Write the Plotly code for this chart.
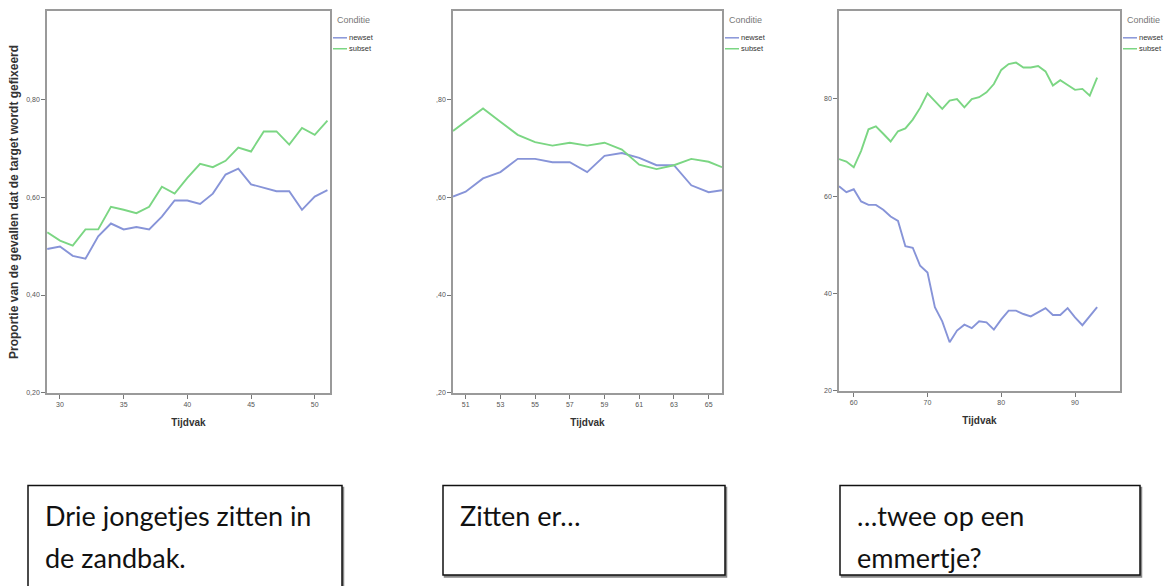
import plotly.graph_objects as go

W, H = 1165, 586

# ---- data: proportion of fixations on the target per time bin ----
tijd_1 = list(range(29, 52))
newset_1 = [0.494, 0.499, 0.480, 0.474, 0.520, 0.546, 0.534, 0.539, 0.534, 0.560,
            0.593, 0.593, 0.586, 0.607, 0.646, 0.658, 0.626, 0.619, 0.612, 0.612,
            0.574, 0.601, 0.614]
subset_1 = [0.528, 0.511, 0.501, 0.534, 0.534, 0.580, 0.574, 0.567, 0.580, 0.621,
            0.607, 0.639, 0.668, 0.661, 0.674, 0.701, 0.693, 0.734, 0.734, 0.707,
            0.741, 0.727, 0.756]

tijd_2 = [50.27] + list(range(51, 66)) + [65.77]
newset_2 = [0.601, 0.611, 0.638, 0.651, 0.678, 0.678, 0.671, 0.671, 0.651, 0.684,
            0.690, 0.680, 0.665, 0.665, 0.624, 0.610, 0.614]
subset_2 = [0.735, 0.755, 0.781, 0.754, 0.727, 0.712, 0.705, 0.711, 0.705, 0.711,
            0.697, 0.666, 0.657, 0.665, 0.678, 0.672, 0.661]

tijd_3 = list(range(58, 94))
newset_3 = [0.620, 0.608, 0.614, 0.589, 0.582, 0.582, 0.572, 0.558, 0.549, 0.497,
            0.494, 0.457, 0.443, 0.372, 0.343, 0.300, 0.324, 0.336, 0.329, 0.343,
            0.341, 0.326, 0.347, 0.365, 0.365, 0.358, 0.353, 0.361, 0.370, 0.356,
            0.356, 0.370, 0.351, 0.335, 0.353, 0.372]
subset_3 = [0.676, 0.671, 0.659, 0.693, 0.737, 0.743, 0.728, 0.712, 0.733, 0.739,
            0.757, 0.781, 0.811, 0.796, 0.779, 0.796, 0.799, 0.782, 0.799, 0.803,
            0.813, 0.830, 0.859, 0.871, 0.874, 0.864, 0.864, 0.867, 0.856, 0.827,
            0.838, 0.828, 0.818, 0.820, 0.806, 0.843]

condities = ["newset", "subset"]
kleuren = {"newset": "#8794d8", "subset": "#7bd683"}

panels = [
    dict(x=tijd_1, new=newset_1, sub=subset_1, px=(47, 330), bottom=395,
         xrange=[28.98, 51.2], xticks=[30, 35, 40, 45, 50],
         yticktext=["0,20", "0,40", "0,60", "0,80"]),
    dict(x=tijd_2, new=newset_2, sub=subset_2, px=(453, 722), bottom=395,
         xrange=[50.27, 65.77], xticks=[51, 53, 55, 57, 59, 61, 63, 65],
         yticktext=[",20", ",40", ",60", ",80"]),
    dict(x=tijd_3, new=newset_3, sub=subset_3, px=(839, 1120), bottom=393,
         xrange=[58.0, 96.1], xticks=[60, 70, 80, 90],
         yticktext=["20", "40", "60", "80"]),
]
yticks = [0.2, 0.4, 0.6, 0.8]
top = 11

captions = [
    dict(box=(28, 488, 342, 600), lines=["Drie jongetjes zitten in", "de zandbak."]),
    dict(box=(443, 488, 725, 578), lines=["Zitten er…"]),
    dict(box=(840, 488, 1140, 578), lines=["…twee op een", "emmertje?"]),
]


def fx(px):
    return px / W


def fy(py):
    return 1 - py / H


fig = go.Figure()
shapes, annotations = [], []
axis_font = dict(family="Liberation Sans, Arial, sans-serif", size=7, color="#555")

for i, p in enumerate(panels, start=1):
    xa = "x" if i == 1 else f"x{i}"
    ya = "y" if i == 1 else f"y{i}"
    for cond, vals in (("newset", p["new"]), ("subset", p["sub"])):
        fig.add_trace(go.Scatter(
            x=p["x"], y=vals, mode="lines", name=cond, showlegend=False,
            line=dict(color=kleuren[cond], width=1.9),
            xaxis=xa, yaxis=ya))

    x0, x1 = p["px"]
    fig.update_layout({
        f"xaxis{'' if i == 1 else i}": dict(
            domain=[fx(x0), fx(x1)], range=p["xrange"], anchor=ya,
            tickvals=p["xticks"], ticks="outside", ticklen=4, tickcolor="#777",
            showline=True, linecolor="#9a9a9a", linewidth=1.5, mirror=True,
            showgrid=False, zeroline=False, tickfont=axis_font,
            title=dict(text="<b>Tijdvak</b>", standoff=12,
                       font=dict(family="Liberation Sans, Arial", size=10,
                                 color="#333"))),
        f"yaxis{'' if i == 1 else i}": dict(
            domain=[fy(p["bottom"]), fy(top)], range=[0.2, 0.98], anchor=xa,
            tickvals=yticks, ticktext=p["yticktext"], ticks="outside",
            ticklen=4, tickcolor="#777",
            showline=True, linecolor="#9a9a9a", linewidth=1.5, mirror=True,
            showgrid=False, zeroline=False, tickfont=axis_font),
    })

    # legend block to the right of each plot area
    lx = x1 + 3
    annotations.append(dict(
        x=fx(lx + 2), y=fy(20), xref="paper", yref="paper", xanchor="left",
        yanchor="middle", text="Conditie", showarrow=False,
        font=dict(family="Liberation Sans, Arial", size=9, color="#777")))
    for k, cond in enumerate(condities):
        ly = 38 + k * 11
        shapes.append(dict(type="line", xref="paper", yref="paper",
                           x0=fx(lx), x1=fx(lx + 14), y0=fy(ly), y1=fy(ly),
                           line=dict(color=kleuren[cond], width=1.5)))
        annotations.append(dict(
            x=fx(lx + 14), y=fy(ly), xref="paper", yref="paper",
            xanchor="left", yanchor="middle", text=cond, showarrow=False,
            font=dict(family="Liberation Sans, Arial", size=7.5, color="#333")))

# y-axis title of the first panel
annotations.append(dict(
    x=fx(14), y=fy(203), xref="paper", yref="paper", textangle=-90,
    text="<b>Proportie van de gevallen dat de target wordt gefixeerd</b>",
    showarrow=False, xanchor="center", yanchor="middle",
    font=dict(family="Liberation Sans, Arial", size=12, color="#333")))

# caption boxes below the plots, with a slight drop shadow
for c in captions:
    bx0, by0, bx1, by1 = c["box"]
    shapes.append(dict(type="rect", xref="paper", yref="paper",
                       x0=fx(bx0 + 1.5), x1=fx(bx1 + 1.5),
                       y0=fy(by1 + 2), y1=fy(by0 + 2),
                       line=dict(color="#888", width=1.5), fillcolor="#888"))
    shapes.append(dict(type="rect", xref="paper", yref="paper",
                       x0=fx(bx0), x1=fx(bx1), y0=fy(by1), y1=fy(by0),
                       line=dict(color="#111", width=1.5), fillcolor="white"))
    for j, line in enumerate(c["lines"]):
        annotations.append(dict(
            x=fx(bx0 + 15), y=fy(518 + 42 * j), xref="paper", yref="paper",
            xanchor="left", yanchor="middle", text=line, showarrow=False,
            font=dict(family="Lato, Carlito, sans-serif", size=27,
                      color="#111")))

fig.update_layout(
    width=W, height=H, margin=dict(l=0, r=0, t=0, b=0),
    paper_bgcolor="white", plot_bgcolor="white",
    shapes=shapes, annotations=annotations, showlegend=False)

fig.write_html("out.html")
